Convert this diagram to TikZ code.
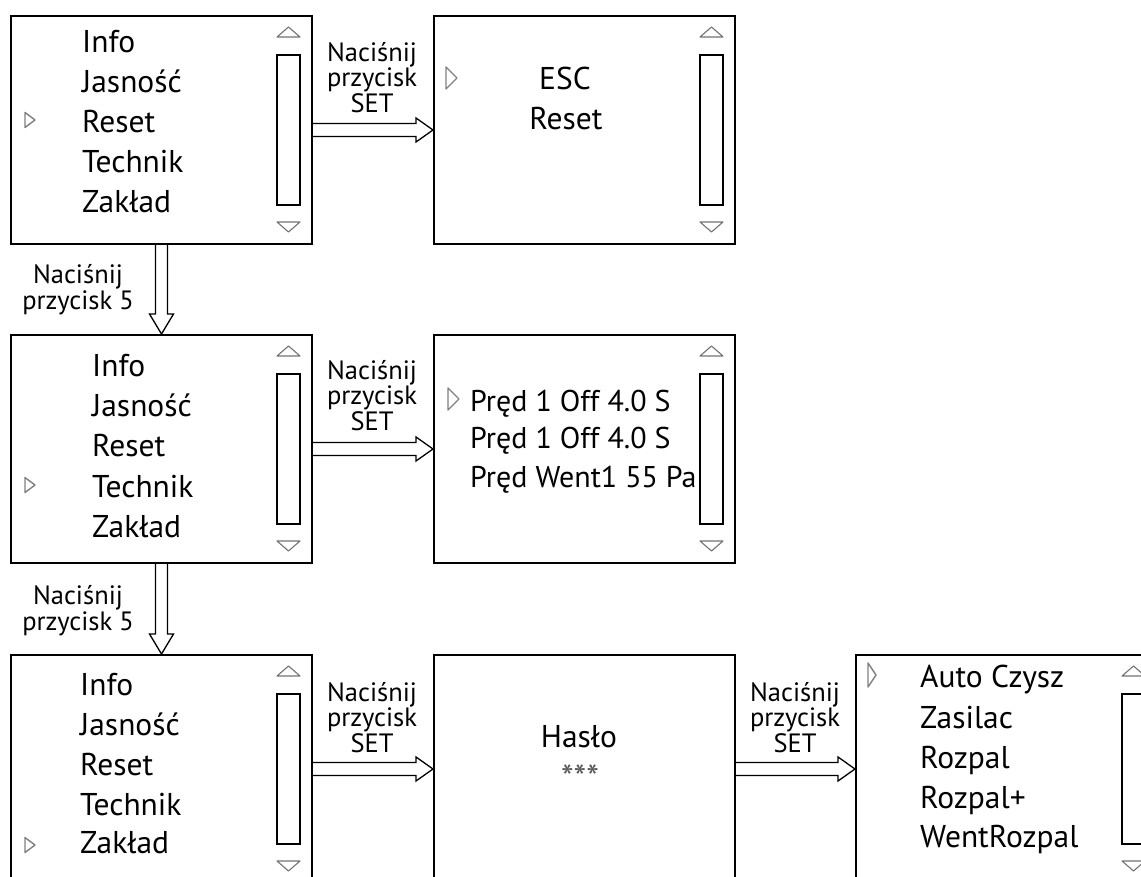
\documentclass[tikz,border=0pt]{standalone}
\usepackage{fontspec}
\setmainfont{PT Sans}
\usetikzlibrary{calc}
\tikzset{
  box/.style={draw=black, line width=2pt, minimum width=301pt, minimum height=228pt, inner sep=0pt, anchor=north west},
  sbar/.style={draw=black, line width=1.8pt, minimum width=23pt, minimum height=150pt, inner sep=0pt, anchor=north west},
  tri/.style={draw=black!55, line width=1.1pt, line join=round},
  ptr/.style={draw=black!50, line width=1.4pt, line join=round},
  item/.style={anchor=base west, inner sep=0pt, font=\fontsize{31.5}{31.5}\selectfont},
  ditem/.style={anchor=base west, inner sep=0pt, font=\fontsize{30}{30}\selectfont},
  citem/.style={anchor=base, inner sep=0pt, font=\fontsize{31.5}{31.5}\selectfont},
  lbl/.style={anchor=base, inner sep=0pt, font=\fontsize{26.5}{26.5}\selectfont},
  harr/.style={draw=black, line width=1.3pt, line join=miter},
}
\newcommand{\screen}[3]{%
  \node[box] (#1) at (#2,#3) {};
  \node[sbar] (#1sb) at (#2+266,#3+39) {};
  \draw[tri] (#2+267,#3+22) -- (#2+278.5,#3+12) -- (#2+290,#3+22) -- cycle;
  \draw[tri] (#2+267,#3+207) -- (#2+278.5,#3+217) -- (#2+290,#3+207) -- cycle;
}
\newcommand{\pointer}[4]{%
  \draw[ptr] (#1,#2-#3/2) -- (#1+#4,#2) -- (#1,#2+#3/2) -- cycle;
}
\newcommand{\harrow}[2]{%
  \draw[harr] ($(#1)+(0,-6.5)$) -- ($(#2)+(-17,-6.5)$) -- ($(#2)+(-17,-12)$) -- (#2)
    -- ($(#2)+(-17,12)$) -- ($(#2)+(-17,6.5)$) -- ($(#1)+(0,6.5)$);
}
\newcommand{\varrow}[2]{%
  \draw[harr] ($(#1)+(-6,0)$) -- ($(#2)+(-6,-20)$) -- ($(#2)+(-12,-20)$) -- (#2)
    -- ($(#2)+(12,-20)$) -- ($(#2)+(6,-20)$) -- ($(#1)+(6,0)$);
}
\begin{document}
\begin{tikzpicture}[x=1pt,y=-1pt]
\useasboundingbox (0,0) rectangle (1141,877);
\clip (0,0) rectangle (1141,877);
\fill[white] (0,0) rectangle (1141,877);

% screens
\screen{A}{10}{15}
\screen{B}{433}{15}
\screen{C}{10}{334}
\screen{D}{433}{334}
\screen{E}{10}{654}
\node[box] (F) at (433,654) {};
\screen{G}{855}{654}

% box A
\node[item] (a1) at (82,53) {Info};
\node[item] (a2) at (82,93) {Jasność};
\node[item] (a3) at (82,133) {Reset};
\node[item] (a4) at (82,173) {Technik};
\node[item] (a5) at (82,213) {Zakład};
\pointer{25}{120}{15}{10}

% box B
\node[citem] (b1) at (565,90) {ESC};
\node[citem] (b2) at (566,130) {Reset};
\pointer{446}{78}{22}{11}

% box C
\node[item] (c1) at (92,377) {Info};
\node[item] (c2) at (92,417) {Jasność};
\node[item] (c3) at (92,456) {Reset};
\node[item] (c4) at (92,497) {Technik};
\node[item] (c5) at (92,537) {Zakład};
\pointer{25}{485}{15}{10}

% box D
\node[ditem] (d1) at (470,411) {Pręd 1 Off 4.0 S};
\node[ditem] (d2) at (470,448) {Pręd 1 Off 4.0 S};
\node[ditem] (d3) at (470,487) {Pręd Went1 55 Pa};
\pointer{448}{399}{22}{11}

% box F
\node[citem] (f1) at (579,747) {Hasło};
\node[citem, font=\fontsize{36}{36}\selectfont, text=black!65] (f2) at (580,790) {***};

% box E
\node[item] (e1) at (80,695) {Info};
\node[item] (e2) at (80,735) {Jasność};
\node[item] (e3) at (80,775) {Reset};
\node[item] (e4) at (80,815) {Technik};
\node[item] (e5) at (80,853) {Zakład};
\pointer{25}{845}{15}{10}

% box G
\node[item] (g1) at (920,687) {Auto Czysz};
\node[item] (g2) at (920,728) {Zasilac};
\node[item] (g3) at (920,768) {Rozpal};
\node[item] (g4) at (920,808) {Rozpal+};
\node[item] (g5) at (920,847) {WentRozpal};
\pointer{868}{675}{24}{8}

% arrows
\harrow{A.east}{B.west}
\harrow{C.east}{D.west}
\harrow{E.east}{F.west}
\harrow{F.east}{G.west}
\varrow{A.south}{C.north}
\varrow{C.south}{E.north}

% labels
\node[lbl] (l1a) at (372,62) {Naciśnij};
\node[lbl] (l1b) at (372,87) {przycisk};
\node[lbl] (l1c) at (372,113) {SET};
\node[lbl] (l2a) at (372,379) {Naciśnij};
\node[lbl] (l2b) at (372,404) {przycisk};
\node[lbl] (l2c) at (372,430) {SET};
\node[lbl] (l3a) at (372,701) {Naciśnij};
\node[lbl] (l3b) at (372,726) {przycisk};
\node[lbl] (l3c) at (372,752) {SET};
\node[lbl] (l4a) at (795,701) {Naciśnij};
\node[lbl] (l4b) at (795,726) {przycisk};
\node[lbl] (l4c) at (795,752) {SET};
\node[lbl] (v1a) at (78,284) {Naciśnij};
\node[lbl] (v1b) at (78,310) {przycisk 5};
\node[lbl] (v2a) at (78,604) {Naciśnij};
\node[lbl] (v2b) at (78,630) {przycisk 5};
\end{tikzpicture}
\end{document}
